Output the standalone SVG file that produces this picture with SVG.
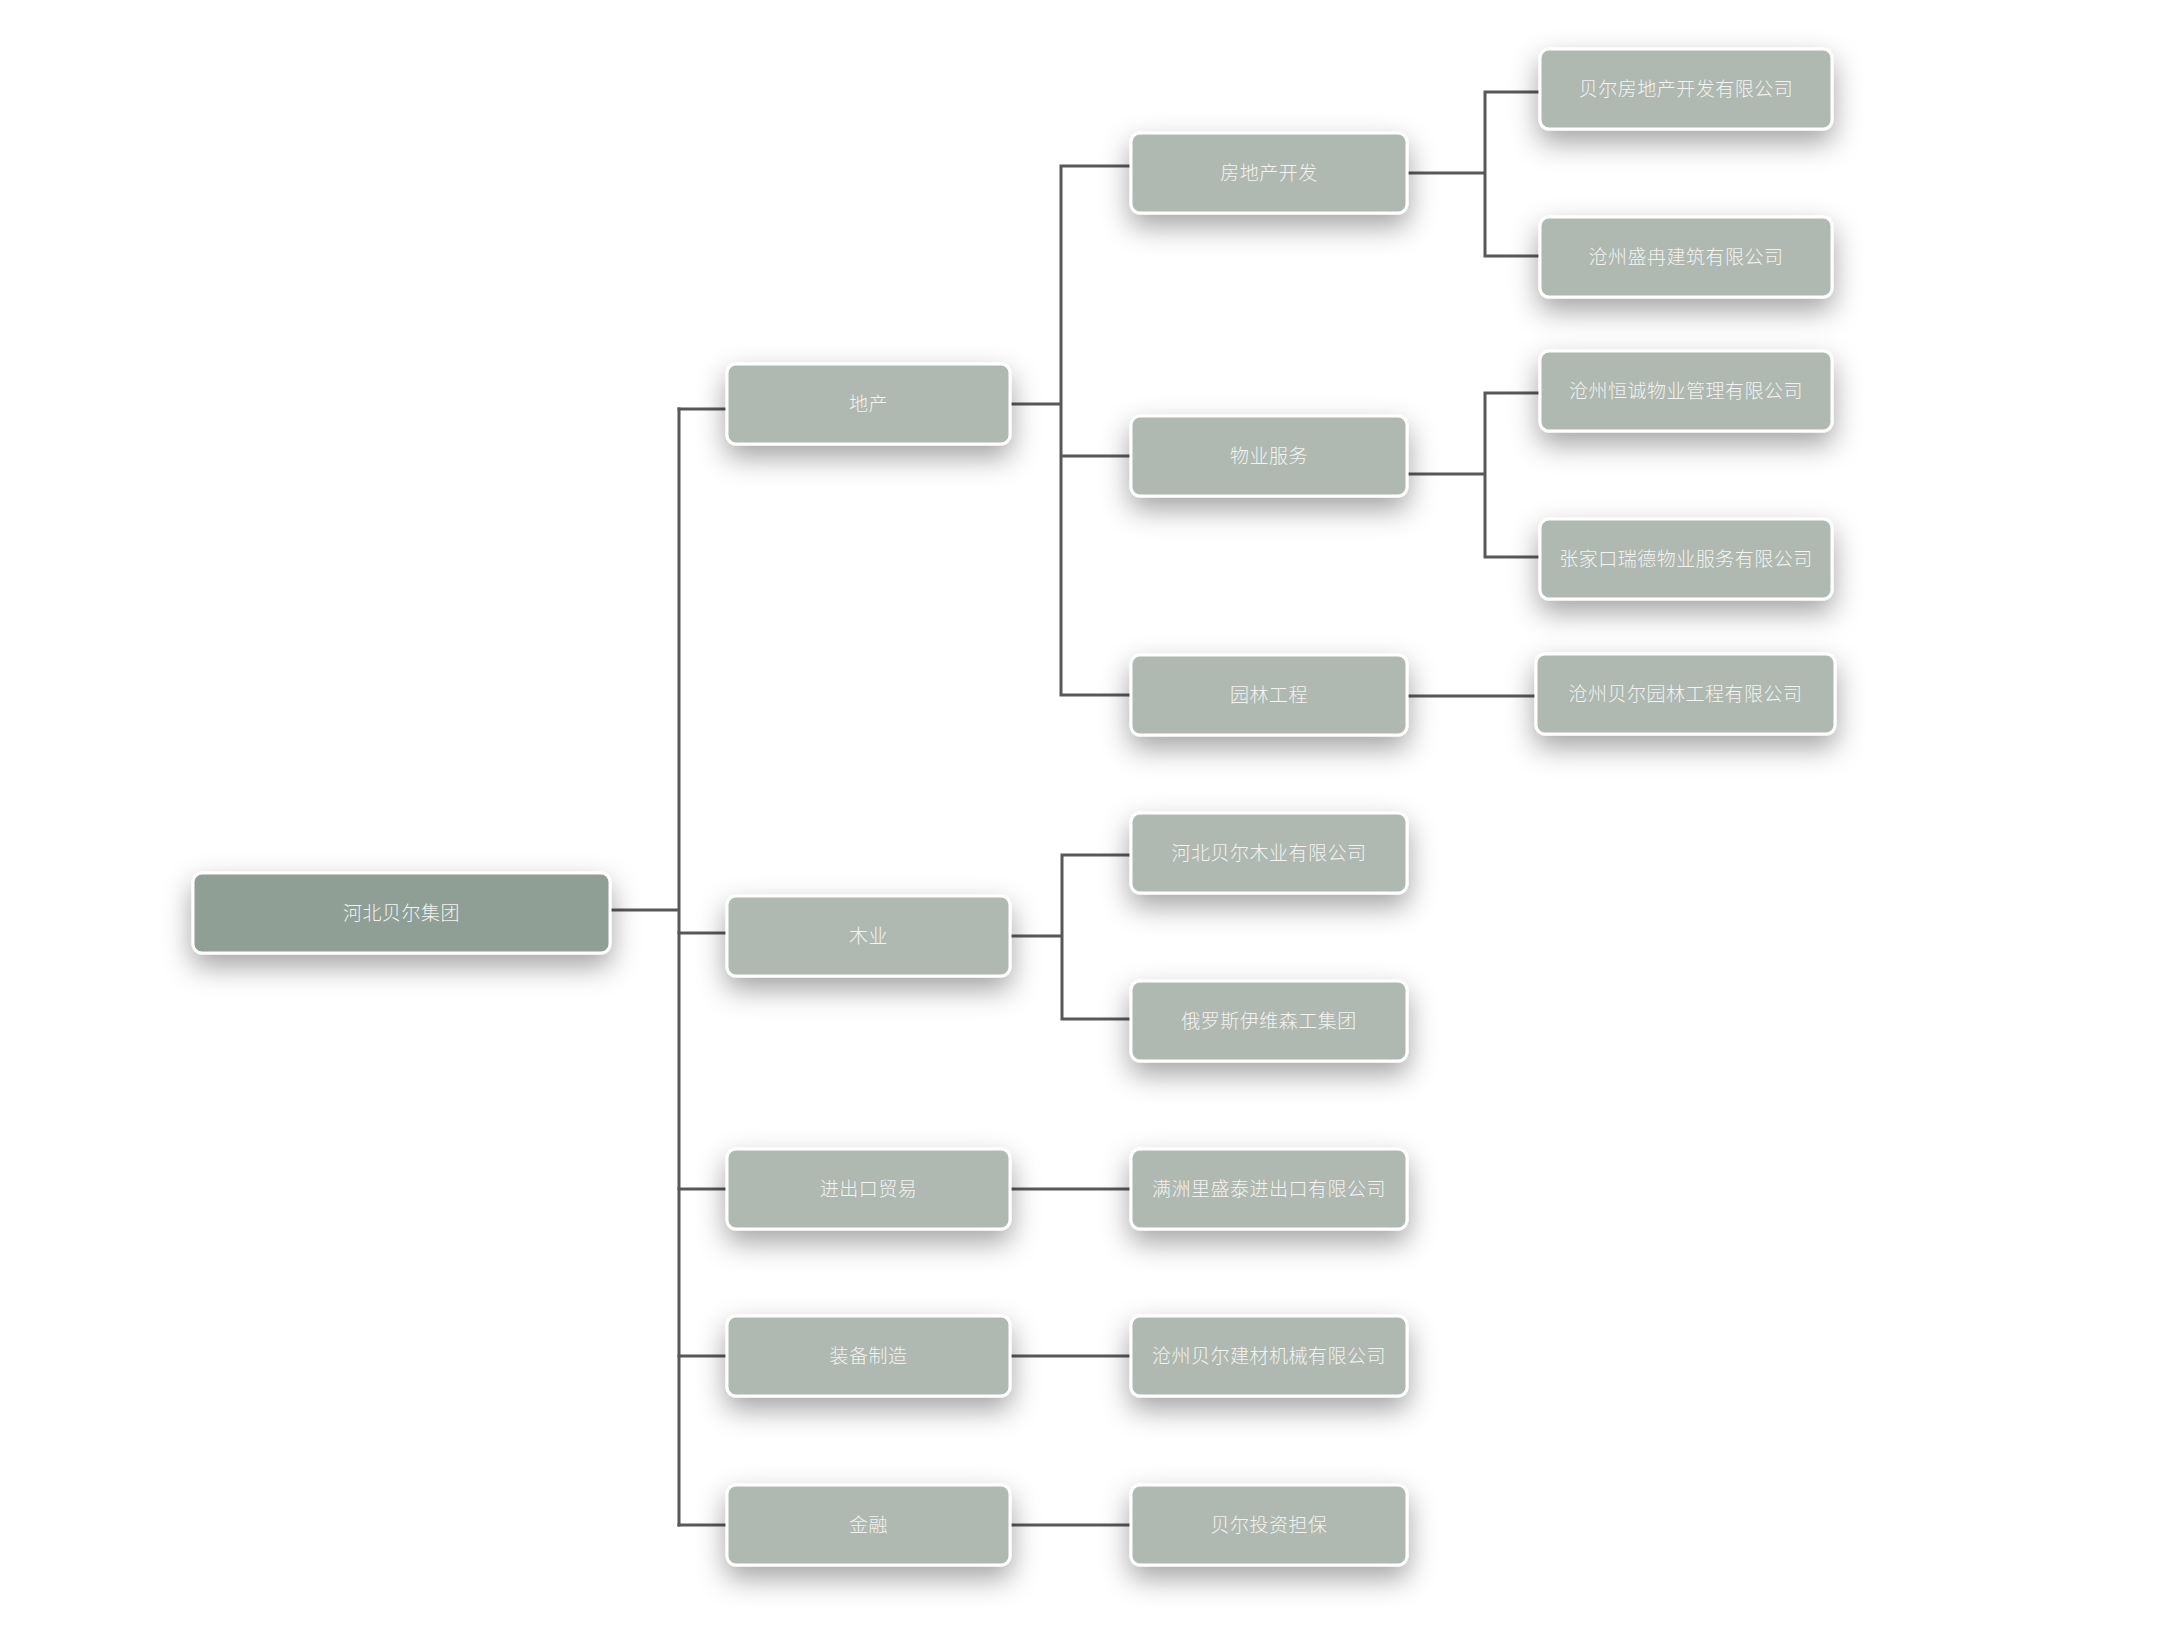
<svg xmlns="http://www.w3.org/2000/svg" width="2160" height="1636" viewBox="0 0 2160 1636">
<defs>
<filter id="sh" x="-30%" y="-60%" width="160%" height="260%">
<feDropShadow dx="0" dy="12" stdDeviation="14" flood-color="#000" flood-opacity="0.36"/>
</filter>
<style>
.box{fill:#afb9b1;stroke:#fff;stroke-width:3;filter:url(#sh)}
.root{fill:#909f95}
.t{font-family:"Noto Sans CJK SC","Noto Sans",sans-serif;font-size:19px;font-weight:300;fill:#f3f3f1;text-anchor:middle;dominant-baseline:central;letter-spacing:0.5px}
.c{stroke:#585858;stroke-width:3;fill:none;stroke-linecap:square}
</style>
</defs>
<rect width="2160" height="1636" fill="#fff"/>
<g id="connectors">
<path class="c" d="M610 910H679M679 409V1525"/>
<path class="c" d="M679 409H727M679 933H727M679 1189H727M679 1356H727M679 1525H727"/>
<path class="c" d="M1010 404H1061M1061 166V695M1061 166H1131M1061 456H1131M1061 695H1131"/>
<path class="c" d="M1407 173H1485M1485 92V256M1485 92H1540M1485 256H1540"/>
<path class="c" d="M1407 474H1485M1485 393V557M1485 393H1540M1485 557H1540"/>
<path class="c" d="M1407 696H1536"/>
<path class="c" d="M1011 936H1062M1062 855V1019M1062 855H1131M1062 1019H1131"/>
<path class="c" d="M1010 1189H1131M1010 1356H1131M1010 1525H1131"/>
</g>
<g id="n0"><rect class="box root" x="193" y="873" width="417" height="80" rx="9"/><text class="t" x="401.5" y="911">河北贝尔集团</text></g>
<g id="n1"><rect class="box" x="727" y="364" width="283" height="80" rx="9"/><text class="t" x="868.5" y="402">地产</text></g>
<g id="n2"><rect class="box" x="727" y="896" width="283" height="80" rx="9"/><text class="t" x="868.5" y="934">木业</text></g>
<g id="n3"><rect class="box" x="727" y="1149" width="283" height="80" rx="9"/><text class="t" x="868.5" y="1187">进出口贸易</text></g>
<g id="n4"><rect class="box" x="727" y="1316" width="283" height="80" rx="9"/><text class="t" x="868.5" y="1354">装备制造</text></g>
<g id="n5"><rect class="box" x="727" y="1485" width="283" height="80" rx="9"/><text class="t" x="868.5" y="1523">金融</text></g>
<g id="n6"><rect class="box" x="1131" y="133" width="276" height="80" rx="9"/><text class="t" x="1269" y="171">房地产开发</text></g>
<g id="n7"><rect class="box" x="1131" y="416" width="276" height="80" rx="9"/><text class="t" x="1269" y="454">物业服务</text></g>
<g id="n8"><rect class="box" x="1131" y="655" width="276" height="80" rx="9"/><text class="t" x="1269" y="693">园林工程</text></g>
<g id="n9"><rect class="box" x="1131" y="813" width="276" height="80" rx="9"/><text class="t" x="1269" y="851">河北贝尔木业有限公司</text></g>
<g id="n10"><rect class="box" x="1131" y="981" width="276" height="80" rx="9"/><text class="t" x="1269" y="1019">俄罗斯伊维森工集团</text></g>
<g id="n11"><rect class="box" x="1131" y="1149" width="276" height="80" rx="9"/><text class="t" x="1269" y="1187">满洲里盛泰进出口有限公司</text></g>
<g id="n12"><rect class="box" x="1131" y="1316" width="276" height="80" rx="9"/><text class="t" x="1269" y="1354">沧州贝尔建材机械有限公司</text></g>
<g id="n13"><rect class="box" x="1131" y="1485" width="276" height="80" rx="9"/><text class="t" x="1269" y="1523">贝尔投资担保</text></g>
<g id="n14"><rect class="box" x="1540" y="49" width="292" height="80" rx="9"/><text class="t" x="1686" y="87">贝尔房地产开发有限公司</text></g>
<g id="n15"><rect class="box" x="1540" y="217" width="292" height="80" rx="9"/><text class="t" x="1686" y="255">沧州盛冉建筑有限公司</text></g>
<g id="n16"><rect class="box" x="1540" y="351" width="292" height="80" rx="9"/><text class="t" x="1686" y="389">沧州恒诚物业管理有限公司</text></g>
<g id="n17"><rect class="box" x="1540" y="519" width="292" height="80" rx="9"/><text class="t" x="1686" y="557">张家口瑞德物业服务有限公司</text></g>
<g id="n18"><rect class="box" x="1536" y="654" width="299" height="80" rx="9"/><text class="t" x="1685.5" y="692">沧州贝尔园林工程有限公司</text></g>
</svg>
